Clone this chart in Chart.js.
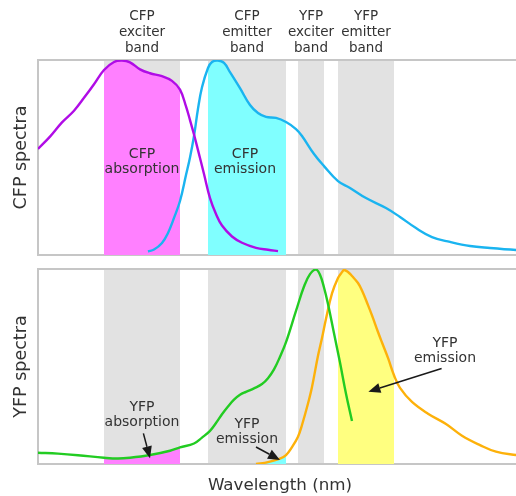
<!DOCTYPE html>
<html>
<head>
<meta charset="utf-8">
<script src="https://cdn.jsdelivr.net/npm/chart.js@4.4.1/dist/chart.umd.min.js"></script>
<style>
  html, body { margin: 0; padding: 0; background: #fff; overflow: hidden; }
  #wrap { position: relative; width: 516px; height: 496px; overflow: hidden; }
  canvas { position: absolute; left: 0; }
  #cfp { top: 0; }
  #yfp { top: 262px; }
</style>
</head>
<body>
<div id="wrap">
  <canvas id="cfp" width="530" height="262"></canvas>
  <canvas id="yfp" width="530" height="234"></canvas>
</div>
<script>
// filter bands (nm)
const bandLo = [413, 465, 510, 530];
const bandHi = [451, 504, 523, 558];
const bandNames = [
  ["CFP", "exciter", "band"],
  ["CFP", "emitter", "band"],
  ["YFP", "exciter", "band"],
  ["YFP", "emitter", "band"]
];

// CFP absorption (normalised)
const cfpAbsX = [380, 386, 392, 398, 403, 408, 413, 418, 422, 426, 431, 436, 442, 447, 451, 454, 456, 458, 460, 463, 466, 469, 472, 477, 482, 489, 495, 500];
const cfpAbsY = [0.544, 0.607, 0.68, 0.74, 0.806, 0.876, 0.949, 0.99, 0.997, 0.988, 0.952, 0.932, 0.917, 0.893, 0.848, 0.762, 0.692, 0.618, 0.538, 0.415, 0.292, 0.21, 0.151, 0.095, 0.063, 0.037, 0.027, 0.02];

// CFP emission
const cfpEmX = [435, 438, 442, 445, 448, 451, 454, 456, 458, 460, 462, 465, 467, 470, 473, 476, 481, 486, 490, 494, 499, 504, 509, 512, 518, 523, 530, 536, 544, 554, 561, 569, 577, 586, 596, 606, 619, 622];
const cfpEmY = [0.018, 0.028, 0.062, 0.113, 0.19, 0.277, 0.41, 0.5, 0.61, 0.75, 0.86, 0.959, 0.99, 0.997, 0.985, 0.938, 0.856, 0.769, 0.728, 0.708, 0.703, 0.682, 0.646, 0.61, 0.518, 0.456, 0.379, 0.344, 0.292, 0.241, 0.195, 0.138, 0.092, 0.067, 0.046, 0.036, 0.026, 0.026];

// YFP absorption
const yfpAbsX = [380, 390, 400, 413, 420, 426, 436, 446, 451, 458, 462, 466, 469, 472, 475, 478, 481, 484, 488, 492, 495, 498, 501, 504, 509, 513, 516, 519, 521, 523, 525, 528, 531, 534, 537];
const yfpAbsY = [0.058, 0.053, 0.045, 0.032, 0.028, 0.032, 0.046, 0.068, 0.085, 0.105, 0.135, 0.17, 0.21, 0.255, 0.295, 0.33, 0.355, 0.37, 0.388, 0.41, 0.44, 0.485, 0.55, 0.625, 0.785, 0.91, 0.974, 0.997, 0.97, 0.905, 0.82, 0.67, 0.52, 0.36, 0.22];

// YFP emission
const yfpEmX = [489, 495, 501, 504, 507, 510, 512, 515, 517, 520, 522, 524, 527, 530, 532, 533, 535, 537, 540, 542, 545, 547, 550, 552, 555, 558, 561, 567, 575, 584, 592, 601, 609, 619, 622];
const yfpEmY = [0.0, 0.01, 0.028, 0.046, 0.087, 0.14, 0.2, 0.31, 0.395, 0.555, 0.646, 0.745, 0.875, 0.954, 0.984, 0.995, 0.985, 0.964, 0.928, 0.89, 0.815, 0.762, 0.677, 0.623, 0.544, 0.455, 0.39, 0.318, 0.258, 0.205, 0.145, 0.097, 0.063, 0.046, 0.044];

const FONT = '"DejaVu Sans", Verdana, sans-serif';
const TEXT = '#333';

function pts(xs, ys) {
  return xs.map((x, i) => ({ x: x, y: ys[i] }));
}

// the part of a curve that lies inside band i, filled down to zero
function bandFill(xs, ys, i, color) {
  return {
    data: pts(xs, ys).filter(p => p.x >= bandLo[i] && p.x <= bandHi[i]),
    fill: 'origin',
    backgroundColor: color,
    borderColor: 'rgba(0,0,0,0)',
    borderWidth: 0,
    order: 2
  };
}

function curve(xs, ys, color) {
  return { data: pts(xs, ys), borderColor: color, borderWidth: 2.4, fill: false, order: 0 };
}

function arrow(ctx, x0, y0, x1, y1) {
  const ang = Math.atan2(y1 - y0, x1 - x0), len = 12, half = 5;
  const bx = x1 - len * Math.cos(ang), by = y1 - len * Math.sin(ang);
  ctx.beginPath();
  ctx.moveTo(x0, y0);
  ctx.lineTo(bx, by);
  ctx.stroke();
  ctx.beginPath();
  ctx.moveTo(x1, y1);
  ctx.lineTo(bx + half * Math.sin(ang), by - half * Math.cos(ang));
  ctx.lineTo(bx - half * Math.sin(ang), by + half * Math.cos(ang));
  ctx.closePath();
  ctx.fill();
}

// bands, frame, labels and arrows
function decor(cfg) {
  return {
    id: 'decor',
    beforeDatasetsDraw(chart) {
      const { ctx, chartArea: a, scales: { x } } = chart;
      ctx.save();
      ctx.fillStyle = '#e2e2e2';
      bandLo.forEach((lo, i) => {
        const x0 = x.getPixelForValue(lo), x1 = x.getPixelForValue(bandHi[i]);
        ctx.fillRect(x0, a.top, x1 - x0, a.bottom - a.top);
      });
      ctx.strokeStyle = '#c6c6c6';
      ctx.lineWidth = 2;
      ctx.strokeRect(a.left, a.top, a.right - a.left, a.bottom - a.top);
      ctx.restore();
    },
    afterDatasetsDraw(chart) {
      const { ctx, chartArea: a, scales: { x, y } } = chart;
      ctx.save();
      ctx.fillStyle = TEXT;
      ctx.textAlign = 'center';
      ctx.textBaseline = 'alphabetic';

      if (cfg.bandHeads) {
        ctx.font = '13.5px ' + FONT;
        bandNames.forEach((lines, i) => {
          const cx = x.getPixelForValue((bandLo[i] + bandHi[i]) / 2);
          lines.forEach((t, k) => ctx.fillText(t, cx, 20 + k * 16));
        });
      }

      ctx.font = '14px ' + FONT;
      cfg.labels.forEach(l => {
        const cx = x.getPixelForValue(l.x), cy = y.getPixelForValue(l.y);
        l.lines.forEach((t, k) => ctx.fillText(t, cx, cy + k * 15));
      });

      ctx.strokeStyle = '#1a1a1a';
      ctx.fillStyle = '#1a1a1a';
      ctx.lineWidth = 1.5;
      cfg.arrows.forEach(r => {
        arrow(ctx, x.getPixelForValue(r[0]), y.getPixelForValue(r[1]),
                   x.getPixelForValue(r[2]), y.getPixelForValue(r[3]));
      });

      ctx.fillStyle = TEXT;
      ctx.font = '17.5px ' + FONT;
      ctx.textBaseline = 'middle';
      ctx.save();
      ctx.translate(21, (a.top + a.bottom) / 2);
      ctx.rotate(-Math.PI / 2);
      ctx.fillText(cfg.yTitle, 0, 0);
      ctx.restore();

      if (cfg.xTitle) {
        ctx.font = '16.7px ' + FONT;
        ctx.textBaseline = 'alphabetic';
        ctx.fillText(cfg.xTitle, (a.left + a.right) / 2, a.bottom + 26);
      }
      ctx.restore();
    }
  };
}

function makeChart(id, datasets, pad, cfg) {
  return new Chart(document.getElementById(id), {
    type: 'line',
    data: { datasets: datasets },
    options: {
      responsive: false,
      animation: false,
      devicePixelRatio: 1,
      layout: { padding: pad },
      scales: {
        x: { type: 'linear', min: 380, max: 622, display: false },
        y: { min: 0, max: 1, display: false }
      },
      elements: {
        point: { radius: 0, hoverRadius: 0 },
        line: { tension: 0.4 }
      },
      plugins: { legend: { display: false }, tooltip: { enabled: false } }
    },
    plugins: [decor(cfg)]
  });
}

makeChart('cfp', [
  curve(cfpAbsX, cfpAbsY, '#b00ce6'),
  curve(cfpEmX, cfpEmY, '#1ab4f0'),
  bandFill(cfpAbsX, cfpAbsY, 0, '#ff80ff'),
  bandFill(cfpEmX, cfpEmY, 1, '#80ffff')
], { left: 38, top: 60, right: 8, bottom: 7 }, {
  bandHeads: true,
  yTitle: 'CFP spectra',
  labels: [
    { x: 432, y: 0.497, lines: ['CFP', 'absorption'] },
    { x: 483.5, y: 0.497, lines: ['CFP', 'emission'] }
  ],
  arrows: []
});

makeChart('yfp', [
  curve(yfpAbsX, yfpAbsY, '#22cc22'),
  curve(yfpEmX, yfpEmY, '#fdb10a'),
  bandFill(yfpAbsX, yfpAbsY, 0, '#ff80ff'),
  bandFill(yfpEmX, yfpEmY, 1, '#80ffff'),
  bandFill(yfpEmX, yfpEmY, 3, '#ffff80')
], { left: 38, top: 7, right: 8, bottom: 32 }, {
  bandHeads: false,
  yTitle: 'YFP spectra',
  xTitle: 'Wavelength (nm)',
  labels: [
    { x: 432, y: 0.273, lines: ['YFP', 'absorption'] },
    { x: 484.5, y: 0.185, lines: ['YFP', 'emission'] },
    { x: 583.5, y: 0.602, lines: ['YFP', 'emission'] }
  ],
  arrows: [
    [432.7, 0.157, 436, 0.029],
    [489, 0.087, 501, 0.021],
    [581.8, 0.49, 545.2, 0.371]
  ]
});
</script>
</body>
</html>
